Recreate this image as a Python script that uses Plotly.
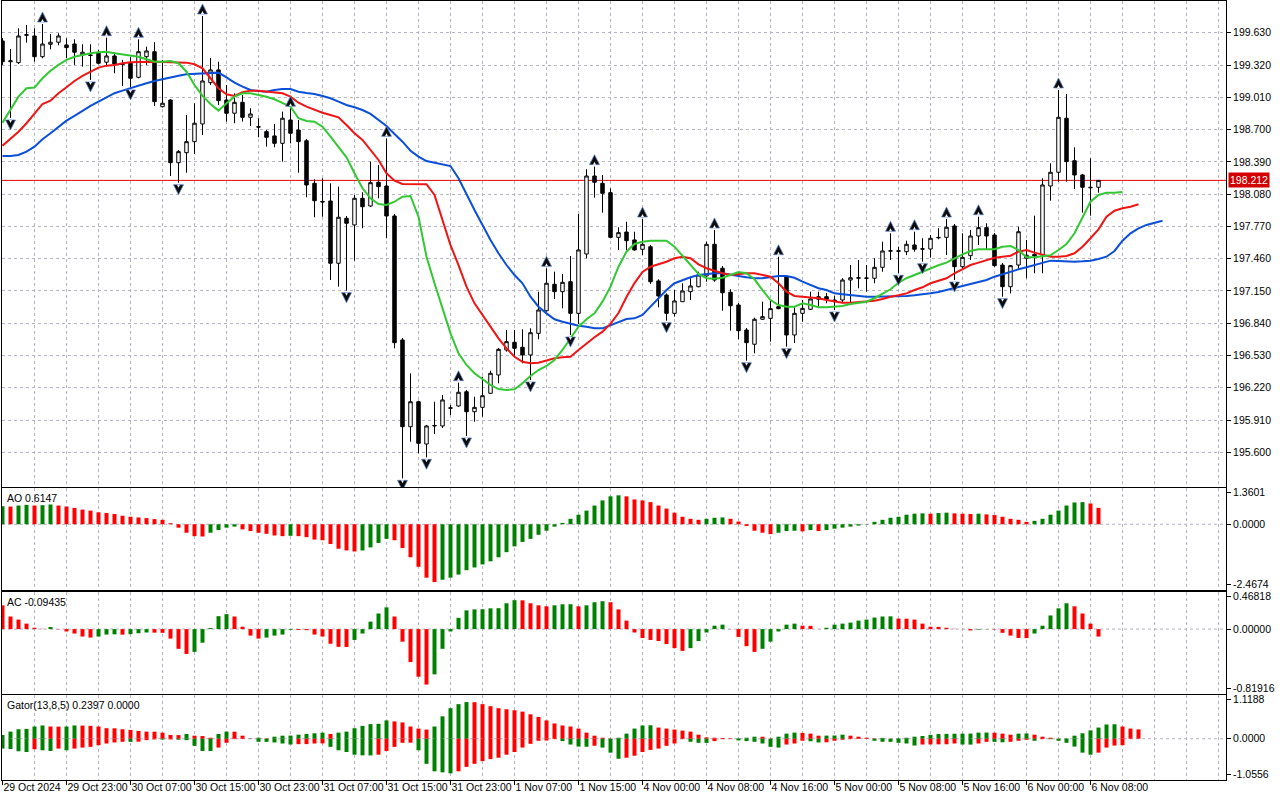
import plotly.graph_objects as go

# ---------------- data ----------------
BAR_INDEX = list(range(138))
TIME_LABEL_BARS = list(range(0, 137, 8))
TIME_LABELS = ["29 Oct 2024", "29 Oct 23:00", "30 Oct 07:00", "30 Oct 15:00", "30 Oct 23:00",
               "31 Oct 07:00", "31 Oct 15:00", "31 Oct 23:00", "1 Nov 07:00", "1 Nov 15:00",
               "4 Nov 00:00", "4 Nov 08:00", "4 Nov 16:00", "5 Nov 00:00", "5 Nov 08:00",
               "5 Nov 16:00", "6 Nov 00:00", "6 Nov 08:00"]

OPEN = [199.551, 199.352, 199.343, 199.605, 199.599, 199.400, 199.519, 199.539, 199.513, 199.522,
        199.417, 199.417, 199.433, 199.347, 199.407, 199.330, 199.337, 199.202, 199.400, 199.448,
        198.920, 198.984, 198.382, 198.478, 198.584, 198.754, 199.151, 199.273, 198.984, 198.857,
        198.962, 198.818, 198.728, 198.680, 198.639, 198.568, 198.792, 198.696, 198.593, 198.184,
        198.010, 198.014, 197.416, 197.848, 197.784, 198.040, 197.966, 198.194, 198.158, 197.870,
        196.679, 195.846, 196.086, 195.680, 195.853, 195.853, 196.023, 196.045, 196.182, 195.990,
        196.032, 196.167, 196.343, 196.583, 196.657, 196.609, 196.535, 196.743, 196.960, 197.214,
        197.143, 197.239, 196.935, 197.505, 198.254, 198.184, 198.094, 197.665, 197.716, 197.640,
        197.550, 197.575, 197.246, 197.111, 196.935, 197.047, 197.143, 197.191, 197.294, 197.598,
        197.368, 197.137, 197.015, 196.775, 196.638, 196.878, 196.887, 196.999, 197.287, 196.727,
        196.935, 196.974, 197.070, 197.095, 197.063, 197.063, 197.255, 197.272, 197.275, 197.272,
        197.377, 197.532, 197.536, 197.527, 197.592, 197.551, 197.553, 197.660, 197.665, 197.774,
        197.383, 197.489, 197.678, 197.758, 197.687, 197.399, 197.191, 197.399, 197.464, 197.502,
        197.495, 198.158, 198.290, 198.809, 198.401, 198.264, 198.146, 198.146]
HIGH = [199.580, 199.474, 199.673, 199.705, 199.673, 199.714, 199.618, 199.625, 199.577, 199.567,
        199.519, 199.519, 199.465, 199.583, 199.439, 199.369, 199.395, 199.567, 199.496, 199.539,
        199.369, 198.991, 198.504, 198.840, 198.953, 199.791, 199.388, 199.352, 199.128, 199.049,
        199.032, 198.905, 198.809, 198.696, 198.754, 198.872, 198.905, 198.792, 198.610, 198.223,
        198.232, 198.184, 198.152, 197.870, 198.072, 198.098, 198.392, 198.360, 198.616, 197.889,
        196.698, 196.359, 196.096, 195.862, 196.086, 196.151, 196.055, 196.269, 196.199, 196.134,
        196.326, 196.384, 196.602, 196.775, 196.775, 196.782, 196.791, 197.143, 197.368, 197.335,
        197.313, 197.486, 197.889, 198.319, 198.344, 198.264, 198.136, 197.762, 197.815, 197.719,
        197.841, 197.592, 197.262, 197.126, 197.159, 197.224, 197.272, 197.335, 197.623, 197.736,
        197.390, 197.166, 197.034, 196.794, 196.893, 197.047, 197.063, 197.479, 197.303, 196.993,
        197.063, 197.143, 197.143, 197.130, 197.104, 197.272, 197.399, 197.447, 197.399, 197.464,
        197.623, 197.704, 197.575, 197.633, 197.719, 197.656, 197.688, 197.752, 197.841, 197.793,
        197.704, 197.736, 197.863, 197.800, 197.707, 197.419, 197.399, 197.767, 197.640, 197.873,
        198.232, 198.376, 199.081, 199.042, 198.530, 198.274, 198.424, 198.216]
LOW = [199.321, 198.812, 199.330, 199.535, 199.352, 199.385, 199.471, 199.510, 199.385, 199.321,
       199.304, 199.177, 199.325, 199.304, 199.241, 199.119, 199.100, 199.193, 199.321, 198.927,
       198.912, 198.254, 198.190, 198.286, 198.466, 198.648, 199.128, 198.936, 198.776, 198.761,
       198.776, 198.735, 198.626, 198.536, 198.530, 198.392, 198.568, 198.286, 198.050, 197.858,
       197.863, 197.255, 197.191, 197.153, 197.441, 197.752, 197.957, 198.040, 197.656, 196.599,
       195.350, 195.702, 195.591, 195.552, 195.776, 195.834, 195.958, 196.038, 195.757, 195.894,
       195.942, 196.160, 196.263, 196.567, 196.513, 196.455, 196.295, 196.686, 196.951, 197.073,
       196.983, 196.727, 196.833, 197.464, 198.046, 197.902, 197.656, 197.544, 197.544, 197.537,
       197.495, 197.217, 196.993, 196.864, 196.903, 197.044, 197.063, 197.185, 197.239, 197.239,
       196.960, 196.768, 196.686, 196.480, 196.551, 196.871, 196.663, 196.974, 196.615, 196.650,
       196.855, 196.967, 197.000, 197.032, 196.967, 197.032, 197.015, 197.176, 197.143, 197.224,
       197.335, 197.447, 197.320, 197.495, 197.527, 197.431, 197.469, 197.646, 197.495, 197.255,
       197.368, 197.447, 197.592, 197.550, 197.383, 197.095, 197.127, 197.351, 197.272, 197.320,
       197.320, 198.017, 198.200, 198.200, 198.129, 197.902, 197.873, 198.094]
CLOSE = [199.352, 199.360, 199.599, 199.612, 199.400, 199.522, 199.539, 199.599, 199.487, 199.443,
         199.443, 199.412, 199.337, 199.407, 199.330, 199.326, 199.193, 199.448, 199.455, 198.968,
         198.953, 198.382, 198.488, 198.584, 198.761, 199.167, 199.273, 198.978, 198.857, 198.962,
         198.818, 198.850, 198.724, 198.626, 198.568, 198.809, 198.665, 198.584, 198.168, 198.017,
         198.005, 197.416, 197.858, 197.800, 198.040, 197.959, 198.190, 198.152, 197.870, 196.653,
         195.846, 196.086, 195.687, 195.853, 195.858, 196.103, 196.027, 196.177, 195.990, 196.032,
         196.144, 196.359, 196.589, 196.663, 196.599, 196.535, 196.749, 196.967, 197.224, 197.143,
         197.233, 196.935, 197.544, 198.254, 198.194, 198.088, 197.665, 197.710, 197.633, 197.544,
         197.598, 197.239, 197.102, 196.935, 197.054, 197.150, 197.198, 197.303, 197.598, 197.255,
         197.133, 197.008, 196.768, 196.653, 196.878, 196.903, 196.980, 196.980, 196.727, 196.935,
         196.983, 197.073, 197.095, 197.070, 197.047, 197.255, 197.277, 197.277, 197.272, 197.377,
         197.534, 197.536, 197.532, 197.598, 197.550, 197.555, 197.656, 197.664, 197.762, 197.383,
         197.473, 197.678, 197.758, 197.678, 197.393, 197.191, 197.393, 197.719, 197.493, 197.486,
         198.168, 198.290, 198.818, 198.392, 198.264, 198.146, 198.142, 198.212]

# Alligator lines (already shifted forward: jaw 8, teeth 5, lips 3 bars)
JAW = [198.446, 198.446, 198.456, 198.488, 198.536, 198.607, 198.665, 198.728, 198.786, 198.831,
       198.882, 198.927, 198.968, 199.010, 199.049, 199.074, 199.100, 199.126, 199.145, 199.167,
       199.186, 199.202, 199.218, 199.231, 199.234, 199.234, 199.244, 199.247, 199.202, 199.151,
       199.112, 199.080, 199.071, 199.064, 199.080, 199.090, 199.090, 199.064, 199.052, 199.042,
       199.023, 199.001, 198.968, 198.936, 198.914, 198.888, 198.850, 198.792, 198.735, 198.658,
       198.584, 198.497, 198.440, 198.398, 198.382, 198.367, 198.350, 198.232, 198.072, 197.928,
       197.784, 197.640, 197.512, 197.399, 197.303, 197.224, 197.095, 196.999, 196.935, 196.878,
       196.855, 196.833, 196.816, 196.807, 196.791, 196.791, 196.823, 196.855, 196.881, 196.887,
       196.919, 196.999, 197.080, 197.159, 197.224, 197.255, 197.281, 197.303, 197.313, 197.320,
       197.320, 197.310, 197.294, 197.281, 197.272, 197.272, 197.281, 197.294, 197.294, 197.277,
       197.239, 197.207, 197.176, 197.159, 197.127, 197.118, 197.108, 197.099, 197.095, 197.095,
       197.095, 197.095, 197.095, 197.102, 197.108, 197.114, 197.127, 197.140, 197.159, 197.181,
       197.198, 197.217, 197.236, 197.255, 197.287, 197.313, 197.335, 197.358, 197.377, 197.399,
       197.422, 197.441, 197.438, 197.431, 197.431, 197.435, 197.441, 197.457, 197.479, 197.534,
       197.633, 197.704, 197.752, 197.784, 197.806, 197.825]
TEETH = [198.545, 198.616, 198.680, 198.761, 198.850, 198.946, 198.978, 199.049, 199.106, 199.167,
         199.215, 199.256, 199.295, 199.314, 199.321, 199.337, 199.347, 199.349, 199.352, 199.352,
         199.349, 199.347, 199.347, 199.343, 199.327, 199.289, 199.193, 199.097, 199.039, 199.023,
         199.058, 199.074, 199.074, 199.064, 199.058, 199.049, 199.016, 198.958, 198.920, 198.888,
         198.862, 198.840, 198.818, 198.744, 198.665, 198.600, 198.504, 198.408, 198.280, 198.209,
         198.177, 198.177, 198.177, 198.175, 198.072, 197.832, 197.591, 197.399, 197.191, 197.031,
         196.919, 196.807, 196.695, 196.599, 196.518, 196.470, 196.455, 196.461, 196.480, 196.503,
         196.513, 196.518, 196.583, 196.647, 196.705, 196.759, 196.833, 196.938, 197.092, 197.226,
         197.332, 197.383, 197.406, 197.431, 197.464, 197.479, 197.464, 197.406, 197.368, 197.342,
         197.320, 197.303, 197.313, 197.320, 197.320, 197.303, 197.287, 197.224, 197.143, 197.102,
         197.095, 197.089, 197.080, 197.063, 197.047, 197.037, 197.037, 197.044, 197.047, 197.056,
         197.073, 197.095, 197.108, 197.127, 197.159, 197.185, 197.224, 197.246, 197.272, 197.320,
         197.358, 197.399, 197.422, 197.447, 197.469, 197.479, 197.489, 197.527, 197.543, 197.518,
         197.495, 197.479, 197.479, 197.486, 197.512, 197.575, 197.656, 197.742, 197.863, 197.921,
         197.944, 197.959, 197.982]
LIPS = [198.766, 198.888, 199.016, 199.097, 199.103, 199.193, 199.266, 199.321, 199.369, 199.400,
        199.417, 199.433, 199.443, 199.448, 199.433, 199.423, 199.417, 199.400, 199.375, 199.352,
        199.352, 199.359, 199.337, 199.256, 199.128, 199.023, 198.946, 198.882, 198.953, 199.016,
        199.049, 199.049, 199.032, 199.016, 198.991, 198.958, 198.920, 198.809, 198.783, 198.776,
        198.728, 198.632, 198.536, 198.434, 198.280, 198.136, 198.040, 197.985, 197.976, 198.007,
        198.055, 198.062, 197.863, 197.479, 197.224, 196.983, 196.743, 196.551, 196.439, 196.359,
        196.301, 196.247, 196.208, 196.199, 196.205, 196.263, 196.333, 196.391, 196.429, 196.487,
        196.583, 196.695, 196.807, 196.878, 196.935, 197.047, 197.191, 197.383, 197.527, 197.601,
        197.623, 197.633, 197.633, 197.633, 197.575, 197.486, 197.399, 197.313, 197.272, 197.268,
        197.277, 197.303, 197.332, 197.320, 197.262, 197.159, 197.063, 197.015, 196.999, 196.999,
        197.031, 197.015, 196.993, 196.993, 196.999, 197.006, 197.025, 197.037, 197.047, 197.080,
        197.121, 197.166, 197.229, 197.272, 197.303, 197.335, 197.368, 197.397, 197.422, 197.464,
        197.502, 197.534, 197.550, 197.550, 197.550, 197.575, 197.582, 197.543, 197.473, 197.473,
        197.486, 197.493, 197.543, 197.601, 197.704, 197.863, 198.007, 198.072, 198.094, 198.094,
        198.101]

FRACTAL_UP = [5, 13, 17, 25, 36, 48, 57, 68, 74, 80, 89, 97, 111, 114, 118, 122, 132]
FRACTAL_DOWN = [1, 11, 16, 22, 43, 50, 53, 58, 66, 71, 83, 93, 98, 104, 112, 115, 119, 125]

AO = [0.677, 0.664, 0.702, 0.728, 0.702, 0.715, 0.741, 0.702, 0.664, 0.613,
      0.549, 0.511, 0.447, 0.421, 0.383, 0.319, 0.281, 0.255, 0.230, 0.192,
      0.166, 0.038, -0.128, -0.319, -0.447, -0.460, -0.319, -0.217, -0.128, -0.089,
      -0.192, -0.255, -0.319, -0.358, -0.421, -0.447, -0.434, -0.447, -0.485, -0.575,
      -0.600, -0.741, -0.920, -0.983, -1.022, -0.983, -0.868, -0.702, -0.549, -0.600,
      -0.894, -1.239, -1.596, -2.005, -2.171, -2.082, -2.005, -1.890, -1.724, -1.622,
      -1.507, -1.392, -1.239, -1.047, -0.830, -0.664, -0.549, -0.396, -0.243, -0.089,
      0.051, 0.204, 0.358, 0.511, 0.702, 0.894, 1.047, 1.086, 1.047, 0.932,
      0.894, 0.830, 0.702, 0.587, 0.434, 0.281, 0.204, 0.166, 0.204, 0.243,
      0.255, 0.204, 0.102, -0.064, -0.243, -0.319, -0.370, -0.319, -0.255, -0.243,
      -0.268, -0.217, -0.255, -0.217, -0.166, -0.128, -0.089, -0.051, -0.013, 0.089,
      0.166, 0.243, 0.281, 0.358, 0.396, 0.409, 0.396, 0.421, 0.434, 0.409,
      0.396, 0.383, 0.396, 0.370, 0.345, 0.281, 0.204, 0.166, 0.089, 0.128,
      0.204, 0.358, 0.511, 0.702, 0.817, 0.830, 0.779, 0.6147]
AC = [0.300, 0.159, 0.120, 0.069, 0.017, 0.004, 0.026, -0.004, -0.030, -0.056,
      -0.094, -0.107, -0.094, -0.069, -0.066, -0.070, -0.064, -0.052, -0.043, -0.045,
      -0.047, -0.120, -0.249, -0.313, -0.288, -0.172, 0.013, 0.163, 0.189, 0.159,
      0.030, -0.082, -0.120, -0.107, -0.082, -0.069, -0.009, -0.011, -0.013, -0.069,
      -0.094, -0.185, -0.224, -0.226, -0.137, -0.056, 0.094, 0.197, 0.275, 0.159,
      -0.159, -0.416, -0.601, -0.700, -0.571, -0.249, -0.030, 0.142, 0.236, 0.249,
      0.251, 0.262, 0.264, 0.326, 0.365, 0.363, 0.326, 0.300, 0.288, 0.300,
      0.313, 0.314, 0.288, 0.300, 0.339, 0.352, 0.339, 0.249, 0.107, -0.043,
      -0.112, -0.137, -0.150, -0.189, -0.240, -0.275, -0.240, -0.150, -0.043, 0.043,
      0.056, -0.002, -0.099, -0.215, -0.288, -0.249, -0.159, -0.030, 0.056, 0.069,
      0.043, 0.041, 0.002, 0.017, 0.056, 0.069, 0.082, 0.107, 0.120, 0.146,
      0.159, 0.161, 0.133, 0.131, 0.120, 0.069, 0.030, 0.028, 0.017, 0.004,
      0.002, -0.017, -0.008, -0.003, -0.006, -0.047, -0.082, -0.112, -0.114, -0.056,
      0.043, 0.172, 0.262, 0.326, 0.288, 0.197, 0.069, -0.09435]
GATOR_UP = [0.095, 0.182, 0.243, 0.252, 0.313, 0.339, 0.313, 0.310, 0.313, 0.339,
            0.336, 0.330, 0.313, 0.269, 0.267, 0.243, 0.226, 0.200, 0.182, 0.180,
            0.156, 0.095, 0.093, 0.122, 0.078, 0.069, 0.026, 0.122, 0.182, 0.180,
            0.078, 0.005, 0.026, 0.010, 0.052, 0.078, 0.080, 0.104, 0.122, 0.139,
            0.156, 0.122, 0.156, 0.182, 0.269, 0.330, 0.373, 0.382, 0.469, 0.443,
            0.417, 0.313, 0.260, 0.234, 0.313, 0.573, 0.781, 0.885, 0.938, 0.935,
            0.885, 0.833, 0.781, 0.755, 0.729, 0.694, 0.625, 0.556, 0.469, 0.391,
            0.339, 0.313, 0.260, 0.156, 0.078, 0.026, 0.008, 0.026, 0.130, 0.260,
            0.339, 0.345, 0.286, 0.260, 0.234, 0.208, 0.182, 0.104, 0.035, 0.026,
            0.020, 0.010, 0.012, 0.026, 0.052, 0.050, 0.006, 0.052, 0.130, 0.156,
            0.150, 0.130, 0.078, 0.080, 0.082, 0.104, 0.078, 0.052, 0.026, 0.010,
            0.022, 0.004, 0.012, 0.026, 0.052, 0.070, 0.100, 0.120, 0.125, 0.128,
            0.130, 0.132, 0.156, 0.158, 0.154, 0.130, 0.104, 0.130, 0.135, 0.104,
            0.052, 0.026, 0.004, 0.008, 0.078, 0.140, 0.214, 0.286, 0.365, 0.370,
            0.313, 0.260, 0.2397]
GATOR_DOWN = [-0.252, -0.262, -0.321, -0.339, -0.269, -0.295, -0.313, -0.252, -0.295, -0.252,
              -0.226, -0.208, -0.165, -0.122, -0.095, -0.078, -0.080, -0.075, -0.035, -0.017,
              -0.020, -0.017, -0.025, -0.035, -0.182, -0.313, -0.315, -0.226, -0.104, -0.010,
              -0.005, -0.008, -0.078, -0.080, -0.095, -0.122, -0.148, -0.139, -0.137, -0.122,
              -0.120, -0.208, -0.295, -0.339, -0.408, -0.425, -0.427, -0.408, -0.313, -0.208,
              -0.104, -0.100, -0.295, -0.642, -0.833, -0.859, -0.885, -0.833, -0.720, -0.642,
              -0.573, -0.521, -0.486, -0.408, -0.339, -0.226, -0.130, -0.052, -0.045, -0.010,
              -0.060, -0.148, -0.200, -0.205, -0.180, -0.226, -0.356, -0.512, -0.486, -0.434,
              -0.339, -0.286, -0.252, -0.182, -0.122, -0.010, -0.078, -0.104, -0.106, -0.061,
              -0.010, -0.008, -0.043, -0.061, -0.078, -0.122, -0.208, -0.226, -0.148, -0.122,
              -0.052, -0.065, -0.095, -0.090, -0.052, -0.026, -0.010, -0.005, -0.002, -0.052,
              -0.078, -0.080, -0.104, -0.122, -0.174, -0.148, -0.146, -0.144, -0.142, -0.122,
              -0.148, -0.150, -0.122, -0.078, -0.080, -0.090, -0.078, -0.052, -0.026, -0.052,
              -0.010, -0.012, -0.052, -0.104, -0.200, -0.356, -0.408, -0.356, -0.226, -0.174,
              -0.165]

PRICE_TICKS = [195.600, 195.910, 196.220, 196.530, 196.840, 197.150, 197.460,
               197.770, 198.080, 198.390, 198.700, 199.010, 199.320, 199.630]
LAST_PRICE = 198.212
MAIN_RANGE = [195.267, 199.935]
AO_SCALE = [-2.4674, 1.3601]
AC_SCALE = [-0.81916, 0.46818]
GATOR_SCALE = [-1.0556, 1.1188]
AO_LABEL = "AO 0.6147"
AC_LABEL = "AC -0.09435"
GATOR_LABEL = "Gator(13,8,5) 0.2397 0.0000"

# ---------------- styling / geometry ----------------
W, H = 1280, 800
ML, MR, MT, MB = 2, 54, 0, 20
PW, PH = W - ML - MR, H - MT - MB
BAR_PX = 8.0
GREEN, RED = "#008000", "#ff0000"
JAW_C, TEETH_C, LIPS_C = "#0a4fd8", "#f01414", "#32c832"
GRID = "#b7b4c6"
DASH = "3px,3px"
FONT = "Liberation Sans, Arial, sans-serif"
FS = 10.5


def dom(top_px, bot_px):
    return [(PH - bot_px) / PH, (PH - top_px) / PH]


PANELS = {"main": (1, 487), "ao": (488, 590), "ac": (592, 694), "gator": (695, 780)}
D_MAIN, D_AO, D_AC, D_GT = (dom(*PANELS[k]) for k in ("main", "ao", "ac", "gator"))
X_RANGE = [-0.5 / BAR_PX, (PW - 0.5) / BAR_PX]
PX_PRICE = (MAIN_RANGE[1] - MAIN_RANGE[0]) / (PANELS["main"][1] - PANELS["main"][0])


def rising_colors(vals, first, key=lambda v: v):
    out = [first]
    for a, b in zip(vals[:-1], vals[1:]):
        out.append(GREEN if key(b) > key(a) else RED)
    return out


fig = go.Figure()

# candles
fig.add_trace(go.Candlestick(
    x=BAR_INDEX, open=OPEN, high=HIGH, low=LOW, close=CLOSE,
    increasing=dict(line=dict(color="black", width=1), fillcolor="white"),
    decreasing=dict(line=dict(color="black", width=1), fillcolor="black"),
    whiskerwidth=0, hoverinfo="skip", showlegend=False, xaxis="x", yaxis="y"))

# alligator
for vals, col in ((JAW, JAW_C), (TEETH, TEETH_C), (LIPS, LIPS_C)):
    fig.add_trace(go.Scatter(x=list(range(len(vals))), y=vals, mode="lines",
                             line=dict(color=col, width=2), hoverinfo="skip",
                             showlegend=False, xaxis="x", yaxis="y"))

# fractals: dart arrows (tip at the marker point) with a small white notch at the base
TIP_GAP = 12      # px between bar extreme and arrow tip
ARROW = 10        # marker size (arrow is about ARROW px wide and tall)
NOTCH = 3
up_tip = [HIGH[i] + TIP_GAP * PX_PRICE for i in FRACTAL_UP]
dn_tip = [LOW[i] - TIP_GAP * PX_PRICE for i in FRACTAL_DOWN]
for xs, ys, sym, sign in ((FRACTAL_UP, up_tip, "arrow-up", -1), (FRACTAL_DOWN, dn_tip, "arrow-down", 1)):
    fig.add_trace(go.Scatter(x=xs, y=ys, mode="markers",
                             marker=dict(symbol=sym, size=ARROW, color="#0c0c0c", angle=0,
                                         line=dict(color="#5a7fd0", width=0.7)),
                             hoverinfo="skip", showlegend=False, xaxis="x", yaxis="y"))
    fig.add_trace(go.Scatter(x=xs, y=[v + sign * (ARROW - NOTCH) * PX_PRICE for v in ys], mode="markers",
                             marker=dict(symbol=sym, size=NOTCH, color="white", angle=0, line=dict(width=0)),
                             hoverinfo="skip", showlegend=False, xaxis="x", yaxis="y"))

# AO / AC
fig.add_trace(go.Bar(x=BAR_INDEX, y=AO, width=0.5,
                     marker=dict(color=rising_colors(AO, GREEN), line=dict(width=0)),
                     hoverinfo="skip", showlegend=False, xaxis="x2", yaxis="y2"))
fig.add_trace(go.Bar(x=BAR_INDEX, y=AC, width=0.5,
                     marker=dict(color=rising_colors(AC, RED), line=dict(width=0)),
                     hoverinfo="skip", showlegend=False, xaxis="x3", yaxis="y3"))
# Gator
fig.add_trace(go.Bar(x=list(range(len(GATOR_UP))), y=GATOR_UP, width=0.5,
                     marker=dict(color=rising_colors(GATOR_UP, GREEN), line=dict(width=0)),
                     hoverinfo="skip", showlegend=False, xaxis="x4", yaxis="y4"))
fig.add_trace(go.Bar(x=list(range(len(GATOR_DOWN))), y=GATOR_DOWN, width=0.5,
                     marker=dict(color=rising_colors(GATOR_DOWN, GREEN, key=abs), line=dict(width=0)),
                     hoverinfo="skip", showlegend=False, xaxis="x4", yaxis="y4"))

tickfont = dict(family=FONT, size=FS, color="black")


def x_axis(anchor, labels=False):
    ax = dict(domain=[0, 1], anchor=anchor, range=X_RANGE, fixedrange=True, automargin=False,
              tickmode="array", tickvals=TIME_LABEL_BARS, ticktext=TIME_LABELS, tickangle=0,
              showgrid=True, gridcolor=GRID, griddash=DASH, gridwidth=1,
              minor=dict(tickmode="linear", tick0=0, dtick=4, showgrid=True,
                         gridcolor=GRID, griddash=DASH, gridwidth=1, ticks=""),
              showline=True, mirror=True, linecolor="black", linewidth=1,
              zeroline=False, showticklabels=labels, tickfont=tickfont)
    if labels:
        ax.update(ticks="outside", ticklen=4, tickcolor="black", tickwidth=1,
                  ticklabelposition="outside right", ticklabelstandoff=-3)
    else:
        ax.update(ticks="")
    return ax


def edge_ticks(scale, panel):
    top, bot = PANELS[panel]
    upp = (scale[1] - scale[0]) / (bot - top)
    return [scale[1] - 4.5 * upp, 0.0, scale[0] + 5.5 * upp]


def fmt(v, nd):
    return f"{v:.{nd}f}"


Y_COMMON = dict(side="right", fixedrange=True, automargin=False, ticks="outside", ticklen=4,
                tickcolor="black", tickfont=tickfont, ticklabelstandoff=0, zeroline=False,
                showline=True, mirror=True, linecolor="black", linewidth=1)


def ind_axis(domain, scale, panel, nd, anchor):
    return dict(Y_COMMON, domain=domain, anchor=anchor, range=scale,
                tickmode="array", tickvals=edge_ticks(scale, panel),
                ticktext=[fmt(scale[1], nd), fmt(0.0, nd), fmt(scale[0], nd)],
                showgrid=False)


layout = dict(
    width=W, height=H, margin=dict(l=ML, r=MR, t=MT, b=MB, autoexpand=False),
    paper_bgcolor="white", plot_bgcolor="white", barmode="overlay",
    showlegend=False, hovermode=False, boxgap=0.38,
    font=dict(family=FONT, size=FS, color="black"),
    xaxis=dict(x_axis("y"), rangeslider=dict(visible=False)),
    xaxis2=x_axis("y2"), xaxis3=x_axis("y3"), xaxis4=x_axis("y4", labels=True),
    yaxis=dict(Y_COMMON, domain=D_MAIN, anchor="x", range=MAIN_RANGE,
               tickmode="array", tickvals=PRICE_TICKS, ticktext=[fmt(v, 3) for v in PRICE_TICKS],
               showgrid=True, gridcolor=GRID, griddash=DASH, gridwidth=1),
    yaxis2=ind_axis(D_AO, AO_SCALE, "ao", 4, "x2"),
    yaxis3=ind_axis(D_AC, AC_SCALE, "ac", 5, "x3"),
    yaxis4=ind_axis(D_GT, GATOR_SCALE, "gator", 4, "x4"),
)
fig.update_layout(**layout)

# zero lines of indicator windows and last price line
shapes = []
for yref in ("y2", "y3", "y4"):
    shapes.append(dict(type="line", xref="paper", x0=0, x1=1, yref=yref, y0=0, y1=0,
                       line=dict(color=GRID, width=1, dash=DASH), layer="below"))
shapes.append(dict(type="line", xref="paper", x0=0, x1=1, yref="y", y0=LAST_PRICE, y1=LAST_PRICE,
                   line=dict(color="#e60000", width=1), layer="below"))
fig.update_layout(shapes=shapes)

annotations = [
    dict(text=f"{LAST_PRICE:.3f}", x=1, xref="paper", xanchor="left", xshift=2,
         y=LAST_PRICE, yref="y", yanchor="middle", showarrow=False,
         font=dict(family=FONT, size=FS, color="white"), bgcolor="#d40000", borderpad=1),
]
for label, d in ((AO_LABEL, D_AO), (AC_LABEL, D_AC), (GATOR_LABEL, D_GT)):
    annotations.append(dict(text=label, x=0, xref="paper", xanchor="left", xshift=3,
                            y=d[1], yref="paper", yanchor="top", yshift=-2, showarrow=False,
                            font=dict(family=FONT, size=FS, color="black")))
fig.update_layout(annotations=annotations)

# remove the browser's default page margin so the figure fills the window exactly
fig.write_html("out.html", config={"displayModeBar": False, "staticPlot": True},
               post_script="document.body.style.margin='0';document.body.style.padding='0';")
